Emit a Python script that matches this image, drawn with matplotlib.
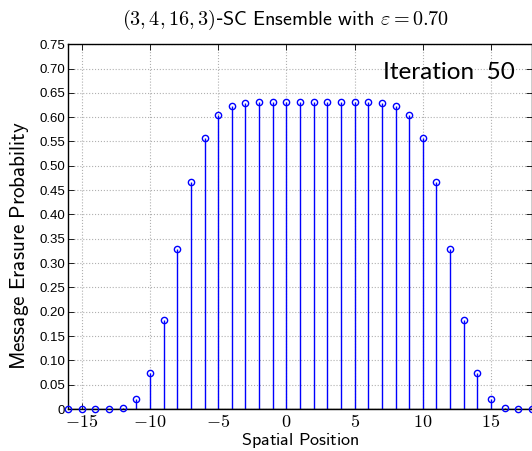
import numpy as np
import matplotlib
matplotlib.use("Agg")
import matplotlib.pyplot as plt

plt.rcParams['mathtext.fontset'] = 'cm'

# spatial positions of the coupled chain and erasure probabilities after 50 iterations
positions = list(range(-16, 19))
erasure = [0.0, 0.0, 0.0, 0.0, 0.003, 0.020, 0.074, 0.183, 0.330, 0.467,
           0.558, 0.604, 0.622, 0.629, 0.631, 0.632, 0.632, 0.632, 0.632,
           0.632, 0.632, 0.632, 0.631, 0.629, 0.622, 0.604, 0.558, 0.467,
           0.330, 0.183, 0.074, 0.020, 0.003, 0.0, 0.0]
yticks = [0, 0.05, 0.10, 0.15, 0.20, 0.25, 0.30, 0.35, 0.40, 0.45, 0.50,
          0.55, 0.60, 0.65, 0.70, 0.75]
xticks = [-15, -10, -5, 0, 5, 10, 15]
iteration = 50
eps = 0.70

fig = plt.figure(figsize=(5.32, 4.51), dpi=100)
ax = fig.add_axes([0.128, 0.093, 0.872, 0.809])

markerline, stemlines, baseline = ax.stem(positions, erasure, basefmt='k-')
plt.setp(stemlines, color='blue', linewidth=1.0)
plt.setp(markerline, color='blue', marker='o', markerfacecolor='none',
         markeredgecolor='blue', markersize=4.5, markeredgewidth=1.0,
         clip_on=False, zorder=4)
plt.setp(baseline, linewidth=1.0)

ax.set_xlim(-16, 18)
ax.set_ylim(0, 0.75)
ax.set_xticks(xticks)
ax.set_xticklabels([r'$%d$' % v if v >= 0 else r'$-%d$' % (-v) for v in xticks],
                   fontsize=13)
ax.set_yticks(yticks)
ax.set_yticklabels(['0' if v == 0 else '%.2f' % v for v in yticks],
                   fontsize=9.5, family='Liberation Sans')
ax.tick_params(direction='in', top=True, right=True, length=4, width=0.6)
ax.tick_params(axis='x', pad=3)
ax.tick_params(axis='y', pad=2)
ax.grid(True, linestyle=':', color='#b0b0b0', linewidth=0.8)
ax.set_axisbelow(True)
for s in ax.spines.values():
    s.set_linewidth(1.0)

ax.set_xlabel(r'$\mathsf{Spatial\ Position}$', fontsize=13, labelpad=0)
ax.set_ylabel(r'$\mathsf{Message\ Erasure\ Probability}$', fontsize=15.2)
ax.yaxis.set_label_coords(-0.081, 0.447)
ax.set_title(r'$(3,4,16,3)$-$\mathsf{SC\ Ensemble\ with}$ $\varepsilon=%.2f$' % eps,
             fontsize=14.5, pad=14, x=0.468)
ax.text(0.963, 0.923, 'Iteration  %d' % iteration, transform=ax.transAxes,
        ha='right', va='center', fontsize=17.5, family='Lato')

fig.savefig('out.png', dpi=100)
